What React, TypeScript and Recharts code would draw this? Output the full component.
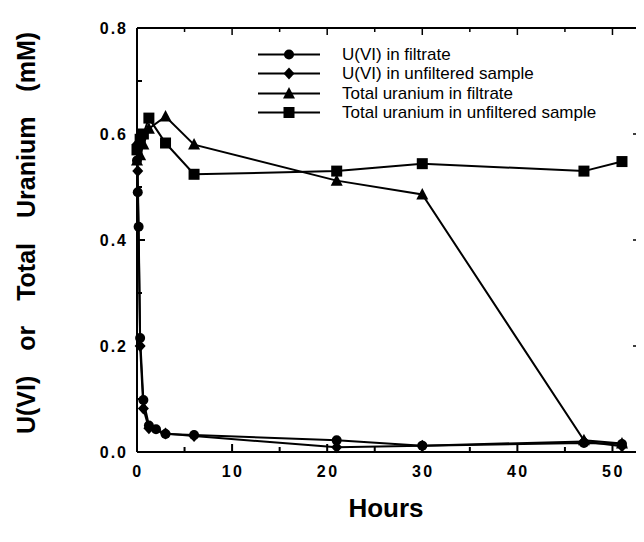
import React from 'react';
import { LineChart, Line, XAxis, YAxis, Legend } from 'recharts';

const FONT = "'Liberation Sans', Arial, Helvetica, sans-serif";

// Layout
const CHART_W = 636;
const CHART_H = 534;
const MARGIN = { top: 20, right: 3, left: 0, bottom: 0 };
const Y_AXIS_W = 129;
const X_AXIS_H = 90;
const PLOT_RIGHT = CHART_W - MARGIN.right;

// Axis ticks
const xDomain = [0, 53];
const xTicks = [0, 5, 10, 15, 20, 25, 30, 35, 40, 45, 50];
const xMajorTicks = [0, 10, 20, 30, 40, 50];
const yDomain = [0, 0.8];
const yTicks = [0, 0.1, 0.2, 0.3, 0.4, 0.5, 0.6, 0.7, 0.8];
const yMajorTicks = [0, 0.2, 0.4, 0.6, 0.8];

// Series names
const seriesNames = [
  'U(VI) in filtrate',
  'U(VI) in unfiltered sample',
  'Total uranium in filtrate',
  'Total uranium in unfiltered sample',
];
const seriesMarkers = ['circle', 'diamond', 'triangle', 'square'];

// U(VI) in filtrate (circles)
const uviFiltrateHours = [0, 0.08, 0.17, 0.33, 0.67, 1.25, 2, 3, 6, 21, 30, 47, 51];
const uviFiltrateMM = [0.55, 0.49, 0.425, 0.215, 0.098, 0.05, 0.043, 0.034, 0.032, 0.022, 0.012, 0.017, 0.015];

// U(VI) in unfiltered sample (diamonds)
const uviUnfilteredHours = [0, 0.08, 0.33, 0.67, 1.25, 3, 6, 21, 30, 47, 51];
const uviUnfilteredMM = [0.58, 0.53, 0.2, 0.082, 0.045, 0.035, 0.03, 0.009, 0.012, 0.02, 0.011];

// Total uranium in filtrate (triangles)
const totalFiltrateHours = [0, 0.33, 0.67, 1.25, 3, 6, 21, 30, 47, 51];
const totalFiltrateMM = [0.55, 0.56, 0.58, 0.61, 0.633, 0.58, 0.512, 0.486, 0.022, 0.016];

// Total uranium in unfiltered sample (squares)
const totalUnfilteredHours = [0, 0.33, 0.67, 1.25, 3, 6, 21, 30, 47, 51];
const totalUnfilteredMM = [0.57, 0.59, 0.6, 0.63, 0.583, 0.524, 0.53, 0.544, 0.53, 0.548];

const toPoints = (h: number[], v: number[]) => h.map((t, i) => ({ hours: t, mM: v[i] }));

const seriesData = [
  toPoints(uviFiltrateHours, uviFiltrateMM),
  toPoints(uviUnfilteredHours, uviUnfilteredMM),
  toPoints(totalFiltrateHours, totalFiltrateMM),
  toPoints(totalUnfilteredHours, totalUnfilteredMM),
];

const Marker = ({ kind, cx, cy }: { kind: string; cx: number; cy: number }) => {
  if (cx == null || cy == null) return null;
  switch (kind) {
    case 'circle':
      return <circle cx={cx} cy={cy} r={5} fill="#000" />;
    case 'diamond':
      return (
        <polygon
          points={`${cx},${cy - 6} ${cx + 5.5},${cy} ${cx},${cy + 6} ${cx - 5.5},${cy}`}
          fill="#000"
        />
      );
    case 'triangle':
      return (
        <polygon
          points={`${cx},${cy - 6.5} ${cx + 6},${cy + 5} ${cx - 6},${cy + 5}`}
          fill="#000"
        />
      );
    default:
      return <rect x={cx - 5.5} y={cy - 5.5} width={11} height={11} fill="#000" />;
  }
};

const isMajorX = (v: number) => xMajorTicks.includes(v);
const isMajorY = (v: number) => yMajorTicks.some((m) => Math.abs(m - v) < 1e-9);

// small filled bar used as a tick mark / frame segment
const Bar = ({ x, y, w, h }: { x: number; y: number; w: number; h: number }) => (
  <rect x={Math.min(x, x + w)} y={Math.min(y, y + h)} width={Math.abs(w)} height={Math.abs(h)} fill="#000" />
);

// bottom axis tick: inward tick mark and label
const BottomTick = (props: any) => {
  const { x, y, payload } = props;
  const v = payload.value;
  const major = isMajorX(v);
  const len = major ? 8 : 5;
  return (
    <g>
      <Bar x={x - 1} y={y} w={2} h={-len} />
      {major && (
        <text
          x={x + 1}
          y={y + 25}
          textAnchor="middle"
          fontFamily={FONT}
          fontWeight="bold"
          fontSize={16}
          letterSpacing={2.5}
          fill="#000"
        >
          {v}
        </text>
      )}
    </g>
  );
};

// left axis tick: inward tick on left and matching inward tick on the right frame.
// The top tick (domain max) also draws the top frame and its ticks,
// the bottom tick draws the right frame.
const LeftTick = (props: any) => {
  const { x, y, payload, height } = props;
  const v = payload.value;
  const major = isMajorY(v);
  const len = major ? 8 : 5;
  const isTop = Math.abs(v - yDomain[1]) < 1e-9;
  const isBottom = Math.abs(v - yDomain[0]) < 1e-9;
  const plotW = PLOT_RIGHT - x;
  const xPos = (t: number) => x + ((t - xDomain[0]) / (xDomain[1] - xDomain[0])) * plotW;
  return (
    <g>
      {isTop && (
        <g>
          <Bar x={x} y={y - 1} w={plotW} h={2} />
          {xTicks.map((t) => (
            <Bar key={t} x={xPos(t) - 0.75} y={y} w={1.5} h={isMajorX(t) ? 7 : 4} />
          ))}
        </g>
      )}
      {isBottom && <Bar x={PLOT_RIGHT - 1} y={y} w={2} h={-(height ?? 0)} />}
      <Bar x={x} y={y - 1} w={len} h={2} />
      <Bar x={PLOT_RIGHT} y={y - 0.75} w={-len} h={1.5} />
      {major && (
        <text
          x={x - 9}
          y={y + 6}
          textAnchor="end"
          fontFamily={FONT}
          fontWeight="bold"
          fontSize={16}
          letterSpacing={2}
          fill="#000"
        >
          {v.toFixed(1)}
        </text>
      )}
    </g>
  );
};

const YLabel = (props: any) => {
  const vb = props.viewBox || {};
  const cx = (vb.x ?? 0) + 18;
  const cy = (vb.y ?? 0) + (vb.height ?? 0) / 2 - 7;
  return (
    <text
      x={cx}
      y={cy}
      transform={`rotate(-90, ${cx}, ${cy})`}
      textAnchor="middle"
      dominantBaseline="central"
      fontFamily={FONT}
      fontWeight="bold"
      fontSize={25}
      style={{ wordSpacing: '18px' }}
      fill="#000"
    >
      U(VI) or Total Uranium (mM)
    </text>
  );
};

const XLabel = (props: any) => {
  const vb = props.viewBox || {};
  const cx = (vb.x ?? 0) + (vb.width ?? 0) / 2 - 3;
  const cy = (vb.y ?? 0) + 65;
  return (
    <text x={cx} y={cy} textAnchor="middle" fontFamily={FONT} fontWeight="bold" fontSize={26} fill="#000">
      Hours
    </text>
  );
};

const LegendBox = () => (
  <div style={{ fontFamily: FONT, fontSize: 17, color: '#000' }}>
    {seriesNames.map((name, i) => (
      <div key={name} style={{ display: 'flex', alignItems: 'center', height: 19.3 }}>
        <svg width={62} height={19} style={{ display: 'block' }}>
          <line x1={0} x2={62} y1={9.5} y2={9.5} stroke="#000" strokeWidth={2} />
          <Marker kind={seriesMarkers[i]} cx={31} cy={9.5} />
        </svg>
        <span style={{ marginLeft: 22, whiteSpace: 'nowrap', lineHeight: '19px' }}>{name}</span>
      </div>
    ))}
  </div>
);

export default function App() {
  return (
    <div style={{ position: 'relative', width: CHART_W, height: CHART_H }}>
      <LineChart width={CHART_W} height={CHART_H} margin={MARGIN}>
        <XAxis
          dataKey="hours"
          type="number"
          domain={xDomain}
          ticks={xTicks}
          interval={0}
          tickSize={0}
          tickMargin={0}
          tickLine={false}
          tick={<BottomTick />}
          height={X_AXIS_H}
          axisLine={{ stroke: '#000', strokeWidth: 2 }}
          label={<XLabel />}
        />
        <YAxis
          type="number"
          domain={yDomain}
          ticks={yTicks}
          interval={0}
          tickSize={0}
          tickMargin={0}
          tickLine={false}
          tick={<LeftTick />}
          width={Y_AXIS_W}
          axisLine={{ stroke: '#000', strokeWidth: 2 }}
          label={<YLabel />}
        />
        <Legend
          layout="vertical"
          align="center"
          verticalAlign="middle"
          wrapperStyle={{ position: 'absolute', top: 37, left: 250, width: 380, height: 80 }}
          content={() => <LegendBox />}
        />
        {seriesData.map((d, i) => (
          <Line
            key={seriesNames[i]}
            name={seriesNames[i]}
            data={d}
            dataKey="mM"
            type="linear"
            stroke="#000"
            strokeWidth={2}
            isAnimationActive={false}
            dot={(p: any) => <Marker key={`${i}-${p.index}`} kind={seriesMarkers[i]} cx={p.cx} cy={p.cy} />}
            activeDot={false}
          />
        ))}
      </LineChart>
    </div>
  );
}
